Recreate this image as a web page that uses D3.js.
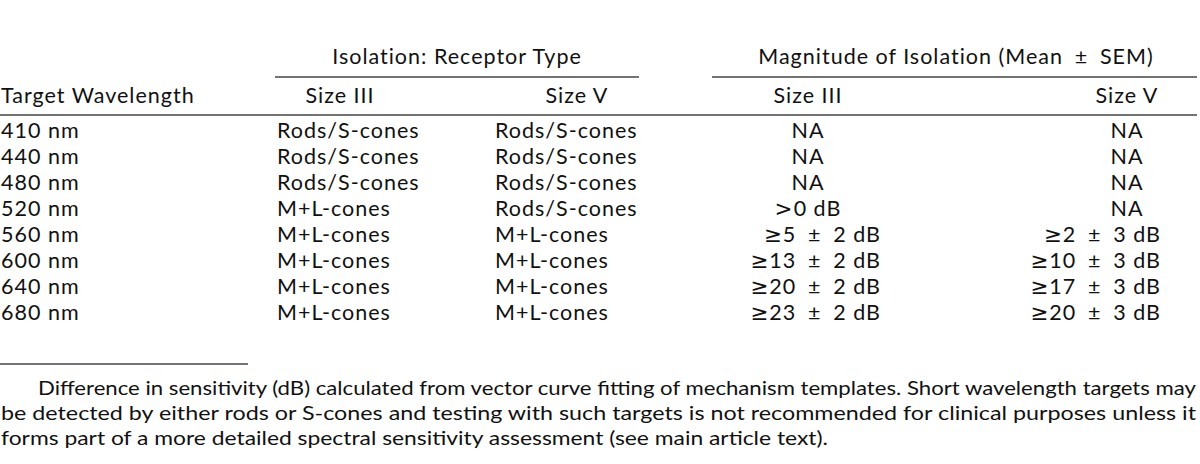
<!DOCTYPE html>
<html>
<head>
<meta charset="utf-8">
<script src="https://cdn.jsdelivr.net/npm/d3@7"></script>
<style>
  body { margin: 0; background: #fff; }
  text { font-family: Lato, "Open Sans", sans-serif; fill: #111; }
  tspan.sym { font-family: "DejaVu Sans", sans-serif; }
</style>
</head>
<body>
<script>
var wavelengths = ["410 nm", "440 nm", "480 nm", "520 nm", "560 nm", "600 nm", "640 nm", "680 nm"];
var receptorIII = ["Rods/S-cones", "Rods/S-cones", "Rods/S-cones", "M+L-cones", "M+L-cones", "M+L-cones", "M+L-cones", "M+L-cones"];
var receptorV = ["Rods/S-cones", "Rods/S-cones", "Rods/S-cones", "Rods/S-cones", "M+L-cones", "M+L-cones", "M+L-cones", "M+L-cones"];
var magnitudeIII = ["NA", "NA", "NA", ">0 dB", "≥5 ± 2 dB", "≥13 ± 2 dB", "≥20 ± 2 dB", "≥23 ± 2 dB"];
var magnitudeV = ["NA", "NA", "NA", "NA", "≥2 ± 3 dB", "≥10 ± 3 dB", "≥17 ± 3 dB", "≥20 ± 3 dB"];
var groupHeaders = ["Isolation: Receptor Type", "Magnitude of Isolation (Mean ± SEM)"];
var colHeaders = ["Target Wavelength", "Size III", "Size V", "Size III", "Size V"];
var footnote = [
  "Difference in sensitivity (dB) calculated from vector curve fitting of mechanism templates. Short wavelength targets may",
  "be detected by either rods or S-cones and testing with such targets is not recommended for clinical purposes unless it",
  "forms part of a more detailed spectral sensitivity assessment (see main article text)."
];

var width = 1200, height = 464, fs = 21.5, ls = "1px";

var svg = d3.select("body").append("svg")
  .attr("width", width)
  .attr("height", height);

var y = d3.scalePoint().domain(wavelengths).range([138, 320]);

// spaced-out plus/minus as in the typeset original
function typeset(s) { return s.replace(/ ± /g, "\u2002±\u2002"); }

// column layout
var cols = [
  { x: 1, anchor: "start", head: 1, headAnchor: "start" },
  { x: 277, anchor: "start", head: 340, headAnchor: "middle" },
  { x: 495, anchor: "start", head: 577, headAnchor: "middle" },
  { x: 808, right: 881, head: 808, headAnchor: "middle" },
  { x: 1127, right: 1161, head: 1127, headAnchor: "middle" }
];

// group headers + spanner rules
var groups = [
  { label: groupHeaders[0], cx: 457, x1: 275, x2: 639 },
  { label: groupHeaders[1], cx: 956, x1: 712, x2: 1197 }
];
svg.selectAll("text.group").data(groups).enter().append("text")
  .attr("class", "group")
  .attr("x", function (d) { return d.cx; })
  .attr("y", 64)
  .attr("text-anchor", "middle")
  .style("font-size", fs + "px")
  .style("letter-spacing", ls)
  .style("white-space", "pre")
  .text(function (d) { return typeset(d.label); });

svg.selectAll("line.span").data(groups).enter().append("line")
  .attr("x1", function (d) { return d.x1; })
  .attr("x2", function (d) { return d.x2; })
  .attr("y1", 77).attr("y2", 77)
  .style("stroke", "#444").style("stroke-width", 1.4);

svg.selectAll("text.colhead").data(colHeaders).enter().append("text")
  .attr("x", function (d, i) { return cols[i].head; })
  .attr("y", 103)
  .attr("text-anchor", function (d, i) { return cols[i].headAnchor; })
  .style("font-size", fs + "px")
  .style("letter-spacing", ls)
  .text(function (d) { return d; });

svg.append("line")
  .attr("x1", 0).attr("x2", 1197).attr("y1", 115).attr("y2", 115)
  .style("stroke", "#444").style("stroke-width", 1.4);

// body rows
var columns = [wavelengths, receptorIII, receptorV, magnitudeIII, magnitudeV];
columns.forEach(function (vals, ci) {
  var c = cols[ci];
  var cells = svg.selectAll("text.c" + ci).data(vals).enter().append("text")
    .attr("class", "c" + ci)
    .attr("x", function (d) {
      if (c.right !== undefined) return d.charAt(0) === "≥" ? c.right : c.x;
      return c.x;
    })
    .attr("y", function (d, i) { return y(wavelengths[i]); })
    .attr("text-anchor", function (d) {
      if (c.right !== undefined) return d.charAt(0) === "≥" ? "end" : "middle";
      return c.anchor;
    })
    .style("font-size", fs + "px")
    .style("letter-spacing", ls)
    .style("white-space", "pre");

  cells.each(function (d) {
    var t = d3.select(this), first = d.charAt(0);
    if (first === "≥" || first === ">") {
      t.append("tspan").attr("class", "sym").text(first);
      t.append("tspan").text(typeset(d.slice(1)));
    } else {
      t.text(typeset(d));
    }
  });
});

svg.append("line")
  .attr("x1", 0).attr("x2", 248).attr("y1", 364).attr("y2", 364)
  .style("stroke", "#444").style("stroke-width", 1.4);

// footnote
var noteLines = [
  { x: 38, w: 1158 },
  { x: 1, w: 1195 },
  { x: 1, w: 827 }
];
svg.selectAll("text.note").data(footnote).enter().append("text")
  .attr("class", "note")
  .attr("x", function (d, i) { return noteLines[i].x; })
  .attr("y", function (d, i) { return 395 + i * 25; })
  .attr("textLength", function (d, i) { return noteLines[i].w; })
  .attr("lengthAdjust", "spacingAndGlyphs")
  .style("font-size", "20px")
  .text(function (d) { return d; });
</script>
</body>
</html>
